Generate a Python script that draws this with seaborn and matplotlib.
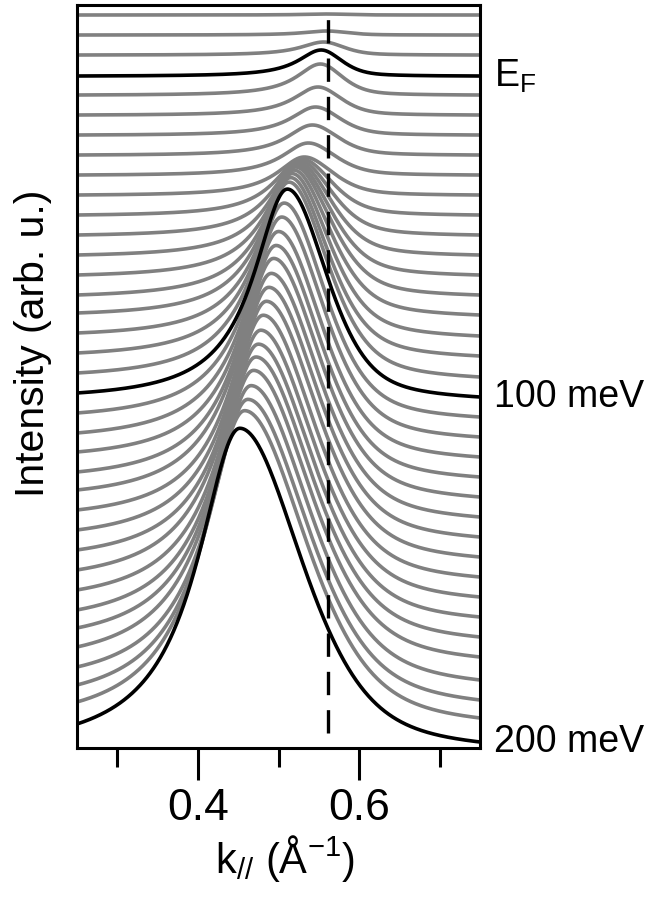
import numpy as np
import pandas as pd
import matplotlib
matplotlib.use("Agg")
import matplotlib.pyplot as plt
import seaborn as sns

# ---------------- data ----------------
# curve index 0 = top (above E_F), 3 = E_F, 19 = 100 meV, 36 = 200 meV
black_curves = [3, 19, 36]
label_texts = ["E$_\\mathregular{F}$", "100 meV", "200 meV"]

# intensity level of each curve at the left (k=0.25) and right (k=0.75) edges
edge_left = [733, 713, 693, 672, 653, 633, 613, 593, 573, 553, 533, 513, 493,
             473, 453, 435, 415, 395, 375, 355, 335, 315, 296, 276, 258, 238,
             218, 198, 178, 158, 138, 120, 101, 81, 63, 46, 24]
edge_right = [733, 713, 693, 672, 653, 633, 613, 593, 573, 553, 533, 513, 493,
              473, 453, 433, 412, 392, 371, 351, 331, 311, 291, 271, 251, 231,
              211, 191, 171, 151, 131, 111, 91, 68, 48, 30, 6]
# MDC peak position (1/Angstrom)
peak_k = [0.560, 0.560, 0.556, 0.553, 0.552, 0.549, 0.546, 0.542, 0.537, 0.532,
          0.529, 0.527, 0.525, 0.523, 0.521, 0.519, 0.517, 0.515, 0.513, 0.511,
          0.507, 0.504, 0.500, 0.497, 0.494, 0.491, 0.488, 0.485, 0.481, 0.478,
          0.475, 0.472, 0.469, 0.466, 0.462, 0.458, 0.452]
# peak height above the curve's own background
peak_height = [1, 4, 13, 26, 31, 28, 28, 30, 32, 38, 56, 74, 92, 110, 128, 144,
               161, 177, 193, 206, 212, 218, 223, 229, 235, 240, 246, 252, 258,
               263, 269, 275, 281, 287, 292, 298, 303]
# half widths on the low-k and high-k side of the peak
width_left = [0.035, 0.035, 0.035, 0.035, 0.036, 0.037, 0.038, 0.039, 0.040,
              0.041, 0.042, 0.043, 0.044, 0.045, 0.046, 0.047, 0.048, 0.049,
              0.050, 0.051, 0.052, 0.053, 0.053, 0.054, 0.055, 0.055, 0.056,
              0.057, 0.058, 0.058, 0.059, 0.060, 0.061, 0.061, 0.062, 0.063,
              0.064]
width_right = [0.030, 0.030, 0.030, 0.030, 0.032, 0.034, 0.036, 0.038, 0.040,
               0.042, 0.044, 0.046, 0.048, 0.050, 0.052, 0.053, 0.054, 0.055,
               0.057, 0.058, 0.060, 0.062, 0.064, 0.066, 0.068, 0.070, 0.072,
               0.074, 0.076, 0.078, 0.080, 0.082, 0.084, 0.086, 0.088, 0.090,
               0.091]
kf_line = 0.562
x_major = [0.4, 0.6]
x_minor = [0.3, 0.5, 0.7]

# ---------------- build curves ----------------
K0, K1 = 0.25, 0.75
k = np.linspace(K0, K1, 601)


def profile(kk, k0, wl, wr):
    ul = (kk - k0) / wl
    ur = (kk - k0) / wr
    left = 1.0 / (1.0 + ul ** 2)
    right = 0.5 / (1.0 + ur ** 2) + 0.5 * np.exp(-np.log(2) * ur ** 2)
    return np.where(kk < k0, left, right)


frames = []
for i in range(len(peak_k)):
    f = profile(k, peak_k[i], width_left[i], width_right[i])
    t = (k - K0) / (K1 - K0)
    t0 = (peak_k[i] - K0) / (K1 - K0)
    f_lin = f[0] + (f[-1] - f[0]) * t
    f_lin0 = f[0] + (f[-1] - f[0]) * t0
    base = edge_left[i] + (edge_right[i] - edge_left[i]) * t
    y = base + peak_height[i] * (f - f_lin) / (1.0 - f_lin0)
    frames.append(pd.DataFrame({"k": k, "I": y, "curve": i,
                                "black": i in black_curves}))
df = pd.concat(frames, ignore_index=True)

# ---------------- plot ----------------
sns.set_theme(style="ticks")
plt.rcParams["font.family"] = ["Liberation Sans", "DejaVu Sans"]
plt.rcParams["mathtext.fontset"] = "custom"
plt.rcParams["mathtext.rm"] = "Liberation Sans"
plt.rcParams["mathtext.it"] = "Liberation Sans:italic"
plt.rcParams["mathtext.default"] = "regular"
plt.rcParams["text.color"] = "black"
plt.rcParams["axes.labelcolor"] = "black"
plt.rcParams["xtick.color"] = "black"
plt.rcParams["ytick.color"] = "black"

fig = plt.figure(figsize=(6.52, 8.99), dpi=100)
ax = fig.add_axes([77 / 652, (899 - 748) / 899, 403 / 652, 743 / 899])

sns.lineplot(data=df[~df["black"]], x="k", y="I", units="curve",
             estimator=None, sort=False, color="#808080", lw=2.6, ax=ax,
             legend=False, zorder=2)
sns.lineplot(data=df[df["black"]], x="k", y="I", units="curve",
             estimator=None, sort=False, color="black", lw=2.6, ax=ax,
             legend=False, zorder=3)

ax.axvline(kf_line, ymin=15 / 743, ymax=0.99, color="black", lw=2.4,
           linestyle=(0, (7, 4.5)), zorder=4)

ax.set_xlim(K0, K1)
ax.set_ylim(0, 743)
ax.set_yticks([])
ax.set_xticks(x_major)
ax.set_xticklabels(["0.4", "0.6"])
ax.set_xticks(x_minor, minor=True)
ax.tick_params(axis="x", which="major", direction="out", length=23,
               width=2.2, colors="black", labelsize=32, pad=6)
ax.tick_params(axis="x", which="minor", direction="out", length=14,
               width=2.2, colors="black", bottom=True)
for s in ax.spines.values():
    s.set_color("black")
    s.set_linewidth(2.2)

ax.set_xlabel("k$_{//}$ (Å$^{-1}$)", fontsize=30, color="black")
ax.xaxis.set_label_coords(0.516, -0.115)
ax.set_ylabel("Intensity (arb. u.)", fontsize=29.5, color="black")
ax.yaxis.set_label_coords(-0.062, 0.545)

tr = ax.get_yaxis_transform()
for idx, txt in zip(black_curves, label_texts):
    ylev = edge_right[idx]
    ax.text(1.035, ylev, txt, transform=tr, fontsize=27, va="center",
            ha="left", color="black", clip_on=False)

fig.savefig("out.png", dpi=100)
